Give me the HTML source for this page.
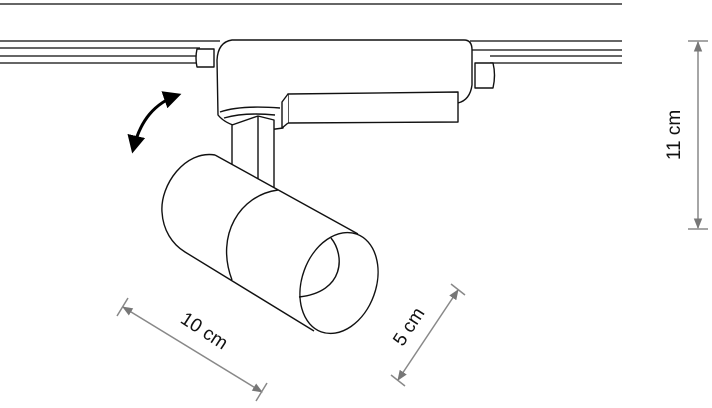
<!DOCTYPE html>
<html><head><style>
html,body{margin:0;padding:0;background:#fff;}
svg{display:block;}
text{font-family:"Liberation Sans","DejaVu Sans",sans-serif;font-size:19px;fill:#111;}
</style></head><body>
<svg width="712" height="408" viewBox="0 0 712 408" xmlns="http://www.w3.org/2000/svg">
<defs>
<marker id="ga" viewBox="0 0 10 10" refX="9" refY="5" markerWidth="7" markerHeight="7" orient="auto-start-reverse"><path d="M0,1 L10,5 L0,9 z" fill="#777"/></marker>
<marker id="ba" viewBox="0 0 10 10" refX="8" refY="5" markerWidth="6" markerHeight="6" orient="auto-start-reverse"><path d="M0,0 L10,5 L0,10 z" fill="#000"/></marker>
</defs>
<line x1="0" y1="4" x2="622" y2="4" stroke="#666" stroke-width="2"/>
<g stroke="#333" stroke-width="1.5" fill="none">
<path d="M0,41 H220 M0,48 H200 M0,56 H200 M0,63 H200"/>
<path d="M470,41 H622 M470,50 H622 M490,56 H622 M490,63 H622"/>
</g>
<g stroke="#111" stroke-width="1.4" fill="#fff" stroke-linejoin="round">
<path d="M197,49 H214 V67 H197 Q195,58 197,49 Z"/>
<path d="M475,63 H493 Q496,75 493,88 H475 Z"/>
<path d="M232,40 H464 Q472,40 472,50 L472,85 Q470,100 458,103 L285,103 L283,128 L268,130 Q230,130 218,115 L217,60 Q218,42 232,40 Z"/>
<path d="M288,94 L458,92 L458,122 L288,123 Z"/>
<path d="M288,94 L282,102 L282,128 L288,123"/>
<path d="M220,112 Q240,105 280,108 M224,118 Q245,112 275,115"/>
<path d="M232,125 L258,116 L274,120 L274,190 L232,170 Z"/>
<line x1="258" y1="116" x2="258" y2="180"/>
<path d="M215,155 L358,234 L364,332 L312,330 L185,252 C170,242 161,230 162,212 C164,185 185,150 215,155 Z" stroke="none"/>
<path d="M215,155 L358,234 M185,252 L314,331 M215,155 C185,150 160,185 162,212 C163,230 172,244 185,252" fill="none"/>
<ellipse cx="339" cy="283" rx="37" ry="52" transform="rotate(20 339 283)"/>
<path d="M278,190 C240,195 215,235 232,280" fill="none"/>
<path d="M331,238 C345,255 345,292 299,297" fill="none"/>
</g>
<path d="M133,150 C140,120 155,103 178,95" stroke="#000" stroke-width="3" fill="none" marker-start="url(#ba)" marker-end="url(#ba)"/>
<g stroke="#888" stroke-width="1.5" fill="none">
<line x1="698" y1="42" x2="698" y2="228" marker-start="url(#ga)" marker-end="url(#ga)"/>
<path d="M688,41 H708 M688,229 H708"/>
<line x1="123" y1="307" x2="262" y2="392" marker-start="url(#ga)" marker-end="url(#ga)"/>
<path d="M117,316 L128,298 M256,401 L267,383"/>
<line x1="458" y1="290" x2="398" y2="380" marker-start="url(#ga)" marker-end="url(#ga)"/>
<path d="M451,284 L465,295 M391,375 L405,386"/>
</g>
<text x="0" y="0" text-anchor="middle" transform="translate(680,135) rotate(-90)">11 cm</text>
<text x="0" y="0" text-anchor="middle" transform="translate(201,336) rotate(33)">10 cm</text>
<text x="0" y="0" text-anchor="middle" transform="translate(414,330) rotate(-57)">5 cm</text>
</svg>
</body></html>
